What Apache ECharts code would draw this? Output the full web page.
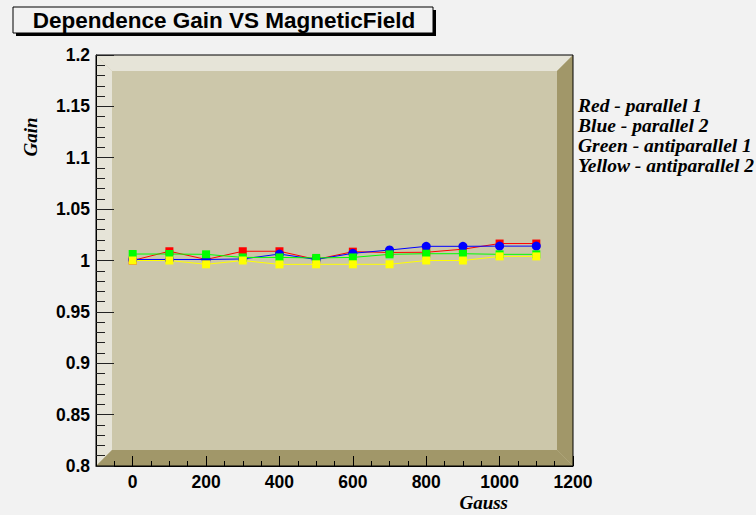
<!DOCTYPE html>
<html>
<head>
<meta charset="utf-8">
<script src="https://cdn.jsdelivr.net/npm/echarts@6/dist/echarts.min.js"></script>
<style>
  html, body { margin: 0; padding: 0; background: #f2f2f2; }
  #chart { width: 756px; height: 515px; }
</style>
</head>
<body>
<div id="chart"></div>
<script>
// Magnetic field settings (Gauss)
const gauss = [0, 100, 200, 300, 400, 500, 600, 700, 800, 900, 1000, 1100];

// Relative gain for each configuration
const redParallel1 = [1.000, 1.009, 1.001, 1.009, 1.009, 1.001, 1.0086, 1.0078, 1.008, 1.011, 1.0165, 1.0165];
const blueParallel2 = [1.001, 1.001, 1.001, 1.0015, 1.0063, 1.001, 1.007, 1.0102, 1.0138, 1.0138, 1.014, 1.014];
const greenAntiparallel1 = [1.0063, 1.0063, 1.006, 1.003, 1.003, 1.0025, 1.003, 1.006, 1.0066, 1.0066, 1.006, 1.006];
const yellowAntiparallel2 = [1.000, 1.000, 0.9963, 1.000, 0.9962, 0.9963, 0.9963, 0.9963, 1.000, 1.000, 1.004, 1.004];

// Axis ranges and tick labels
const xRange = [-100, 1200];
const xMajorLabels = [0, 200, 400, 600, 800, 1000, 1200];
const yRange = [0.8, 1.2];

const legendLines = [
  'Red - parallel 1',
  'Blue - parallel 2',
  'Green - antiparallel 1',
  'Yellow - antiparallel 2'
];

// Frame layout (pixels)
const F = { left: 96, top: 55, right: 573, bottom: 466, bevel: 16 };
const fw = F.right - F.left, fh = F.bottom - F.top;
// second grid spans 0..1200 so major ticks land on multiples of 200
const majorLeft = F.left + (xMajorLabels[0] - xRange[0]) / (xRange[1] - xRange[0]) * fw;

const COLORS = { light: '#e6e4d8', face: '#ccc7aa', dark: '#a19769' };
const labelFont = { fontFamily: 'Liberation Sans, Arial, sans-serif', fontWeight: 'bold', fontSize: 17.5, color: '#000' };
const serifItalic = { fontFamily: 'Liberation Serif, Times New Roman, serif', fontStyle: 'italic', fontWeight: 'bold', color: '#000' };

const pts = arr => gauss.map((g, i) => [g, arr[i]]);
function line(name, data, color, symbol, size) {
  return {
    name, type: 'line', data: pts(data), xAxisIndex: 0, yAxisIndex: 0,
    symbol, symbolSize: size,
    itemStyle: { color },
    lineStyle: { color, width: 1 },
    emphasis: { disabled: true },
    animation: false
  };
}

const b = F.bevel;
const graphics = [
  // bevelled frame
  { type: 'rect', z: -10, shape: { x: F.left, y: F.top, width: fw, height: fh }, style: { fill: COLORS.face } },
  { type: 'polygon', z: -9, shape: { points: [[F.left, F.top], [F.right, F.top], [F.right - b, F.top + b], [F.left + b, F.top + b]] }, style: { fill: COLORS.light } },
  { type: 'polygon', z: -9, shape: { points: [[F.left, F.top], [F.left + b, F.top + b], [F.left + b, F.bottom - b], [F.left, F.bottom]] }, style: { fill: COLORS.light } },
  { type: 'polygon', z: -9, shape: { points: [[F.right, F.top], [F.right, F.bottom], [F.right - b, F.bottom - b], [F.right - b, F.top + b]] }, style: { fill: COLORS.dark } },
  { type: 'polygon', z: -9, shape: { points: [[F.left, F.bottom], [F.right, F.bottom], [F.right - b, F.bottom - b], [F.left + b, F.bottom - b]] }, style: { fill: COLORS.dark } },
  // title box with drop shadow
  { type: 'rect', z: 20, shape: { x: 16, y: 10, width: 420, height: 26 }, style: { fill: '#000' } },
  { type: 'rect', z: 21, shape: { x: 13, y: 7, width: 420, height: 26 }, style: { fill: '#f2f2f2', stroke: '#000', lineWidth: 1 } },
  { type: 'text', z: 22, x: 224, y: 20, style: { text: 'Dependence Gain VS MagneticField', align: 'center', verticalAlign: 'middle', fontFamily: 'Liberation Sans, Arial, sans-serif', fontWeight: 'bold', fontSize: 22.5, fill: '#000' } },
  // axis titles
  { type: 'text', z: 5, x: 30, y: 137, rotation: Math.PI / 2, style: Object.assign({ text: 'Gain', align: 'center', verticalAlign: 'middle', fontSize: 19, fill: '#000' }, serifItalic) },
  { type: 'text', z: 5, x: 508, y: 502, style: Object.assign({ text: 'Gauss', align: 'right', verticalAlign: 'middle', fontSize: 19, fill: '#000' }, serifItalic) }
];
legendLines.forEach((t, i) => {
  graphics.push({ type: 'text', z: 5, x: 578, y: 105 + i * 20, style: Object.assign({ text: t, align: 'left', verticalAlign: 'middle', fontSize: 19.5, fill: '#000' }, serifItalic) });
});

const chart = echarts.init(document.getElementById('chart'), null, { renderer: 'svg' });
chart.setOption({
  backgroundColor: '#f2f2f2',
  animation: false,
  grid: [
    { left: F.left, top: F.top, width: fw, height: fh, show: true, borderColor: '#000', borderWidth: 1, backgroundColor: 'transparent', containLabel: false },
    { left: majorLeft, top: F.top, width: F.right - majorLeft, height: fh, show: false, containLabel: false }
  ],
  xAxis: [
    {
      type: 'value', gridIndex: 0, min: xRange[0], max: xRange[1], interval: 50,
      axisLine: { show: true, onZero: false, lineStyle: { color: '#000', width: 1 } },
      axisTick: { show: true, inside: true, length: 5, lineStyle: { color: '#000' } },
      axisLabel: { show: false }, splitLine: { show: false }
    },
    {
      type: 'value', gridIndex: 1, min: xMajorLabels[0], max: xMajorLabels[xMajorLabels.length - 1], interval: 200,
      axisLine: { show: false, onZero: false },
      axisTick: { show: true, inside: true, length: 10, lineStyle: { color: '#000' } },
      axisLabel: Object.assign({ show: true, margin: 7, showMinLabel: true, showMaxLabel: true, formatter: v => String(v) }, labelFont),
      splitLine: { show: false }
    }
  ],
  yAxis: [
    {
      type: 'value', gridIndex: 0, min: yRange[0], max: yRange[1], interval: 0.05,
      axisLine: { show: true, onZero: false, lineStyle: { color: '#000', width: 1 } },
      axisTick: { show: true, inside: true, length: 18, lineStyle: { color: '#222' } },
      minorTick: { show: true, splitNumber: 5, length: 9, lineStyle: { color: '#222' } },
      axisLabel: Object.assign({ margin: 6, formatter: v => String(+v.toFixed(2)), showMinLabel: true, showMaxLabel: true }, labelFont),
      splitLine: { show: false }
    },
    { type: 'value', gridIndex: 1, min: 0, max: 1, show: false }
  ],
  graphic: graphics,
  series: [
    line('Red - parallel 1', redParallel1, '#ff0000', 'rect', 8),
    line('Blue - parallel 2', blueParallel2, '#0000ff', 'circle', 9),
    line('Green - antiparallel 1', greenAntiparallel1, '#00ff00', 'rect', 8),
    line('Yellow - antiparallel 2', yellowAntiparallel2, '#ffff00', 'rect', 8)
  ]
});
</script>
</body>
</html>
